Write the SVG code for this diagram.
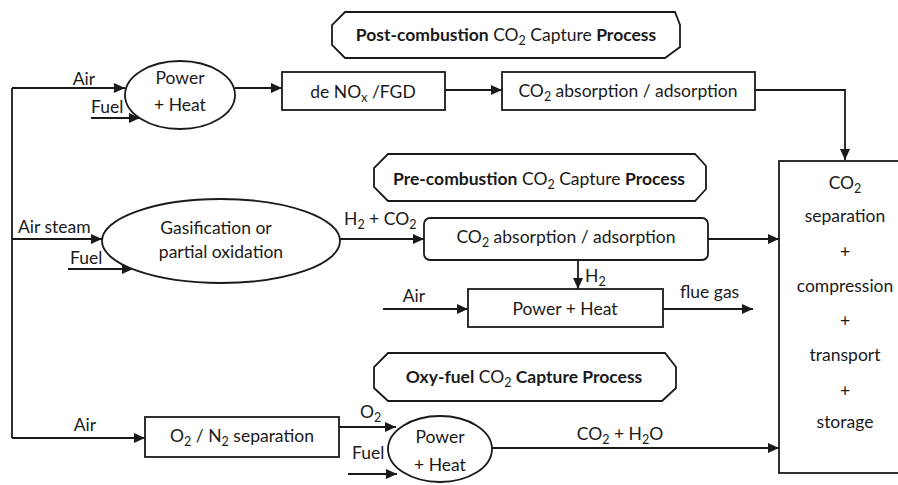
<svg xmlns="http://www.w3.org/2000/svg" width="898" height="485" viewBox="0 0 898 485">
<defs>
<marker id="ah" markerUnits="userSpaceOnUse" markerWidth="12" markerHeight="10" refX="11" refY="5" orient="auto">
<path d="M0,0 L11,5 L0,10 Z" fill="#1a1a1a"/>
</marker>
<style>
.s{fill:#fff;stroke:#1a1a1a;stroke-width:1.8}
.c{fill:none;stroke:#1a1a1a;stroke-width:1.8;marker-end:url(#ah)}
.l{fill:none;stroke:#1a1a1a;stroke-width:1.8}
text{font-family:Lato,"Liberation Sans",sans-serif;font-size:17.5px;fill:#1a1a1a}
.m{text-anchor:middle}
.b{font-weight:bold}
.sub{font-size:12.5px}
</style>
</defs>
<rect width="898" height="485" fill="#fff"/>

<g id="connectors">
<path class="l" d="M12,88 V438"/>
<path class="c" d="M12,88 H125"/>
<path class="c" d="M91,118 H140"/>
<path class="c" d="M235,88 H282"/>
<path class="c" d="M445,90 H502"/>
<path class="c" d="M755,90 H845 V160"/>
<path class="c" d="M12,239 H102"/>
<path class="c" d="M68,269 H133"/>
<path class="c" d="M340,239 H424"/>
<path class="c" d="M708,239 H779"/>
<path class="c" d="M578,260 V289"/>
<path class="c" d="M383,309 H468"/>
<path class="c" d="M663,309 H753"/>
<path class="c" d="M12,438 H145"/>
<path class="c" d="M339,427 H396"/>
<path class="c" d="M348,474 H397"/>
<path class="c" d="M492,448 H779"/>
<text x="84" y="85" class="m">Air</text>
<text x="91" y="113">Fuel</text>
<text x="18" y="233">Air steam</text>
<text x="70" y="264">Fuel</text>
<text x="344" y="225">H<tspan class="sub" dy="4">2</tspan><tspan dy="-4"> + CO</tspan><tspan class="sub" dy="4">2</tspan></text>
<text x="585" y="282">H<tspan class="sub" dy="4">2</tspan></text>
<text x="414" y="302" class="m">Air</text>
<text x="680" y="298">flue gas</text>
<text x="85" y="431" class="m">Air</text>
<text x="360" y="418">O<tspan class="sub" dy="4">2</tspan></text>
<text x="352" y="459">Fuel</text>
<text x="620" y="440" class="m">CO<tspan class="sub" dy="4">2</tspan><tspan dy="-4"> + H</tspan><tspan class="sub" dy="4">2</tspan><tspan dy="-4">O</tspan></text>
</g>

<g id="post-label">
<polygon class="s" points="345,12 675,12 680,25 680,47 665,58 345,58 332,45 332,25"/>
<text x="506" y="41" class="m"><tspan class="b">Post-combustion</tspan> CO<tspan class="sub" dy="4">2</tspan><tspan dy="-4"> Capture </tspan><tspan class="b">Process</tspan></text>
</g>

<g id="power-heat-1">
<ellipse class="s" cx="180" cy="95" rx="55" ry="34"/>
<text x="180" y="84" class="m">Power</text>
<text x="180" y="111" class="m">+ Heat</text>
</g>

<g id="denox">
<rect class="s" x="282" y="72" width="163" height="38"/>
<text x="363" y="98" class="m">de NO<tspan class="sub" dy="4">x</tspan><tspan dy="-4"> /FGD</tspan></text>
</g>

<g id="co2-abs-1">
<rect class="s" x="502" y="72" width="253" height="38"/>
<text x="628" y="97" class="m">CO<tspan class="sub" dy="4">2</tspan><tspan dy="-4"> absorption / adsorption</tspan></text>
</g>

<g id="pre-label">
<polygon class="s" points="388,154 695,154 706,166 706,189 695,201 388,201 374,187 374,168"/>
<text x="539" y="185" class="m"><tspan class="b">Pre-combustion</tspan> CO<tspan class="sub" dy="4">2</tspan><tspan dy="-4"> Capture </tspan><tspan class="b">Process</tspan></text>
</g>

<g id="gasification">
<ellipse class="s" cx="221" cy="241" rx="119" ry="42"/>
<text x="216" y="234" class="m">Gasification or</text>
<text x="221" y="258" class="m">partial oxidation</text>
</g>

<g id="co2-abs-2">
<rect class="s" x="424" y="218" width="284" height="42" rx="6"/>
<text x="566" y="243" class="m">CO<tspan class="sub" dy="4">2</tspan><tspan dy="-4"> absorption / adsorption</tspan></text>
</g>

<g id="power-heat-2">
<rect class="s" x="468" y="289" width="195" height="38"/>
<text x="565" y="315" class="m">Power + Heat</text>
</g>

<g id="oxy-label">
<polygon class="s" points="388,353 665,353 676,367 676,388 662,401 388,401 374,388 374,367"/>
<text x="524" y="383" class="m"><tspan class="b">Oxy-fuel</tspan> CO<tspan class="sub" dy="4">2</tspan><tspan dy="-4" class="b"> Capture Process</tspan></text>
</g>

<g id="o2n2">
<rect class="s" x="145" y="417" width="194" height="40"/>
<text x="242" y="442" class="m">O<tspan class="sub" dy="4">2</tspan><tspan dy="-4"> / N</tspan><tspan class="sub" dy="4">2</tspan><tspan dy="-4"> separation</tspan></text>
</g>

<g id="power-heat-3">
<ellipse class="s" cx="440" cy="449" rx="52" ry="33"/>
<text x="440" y="443" class="m">Power</text>
<text x="440" y="471" class="m">+ Heat</text>
</g>

<g id="storage">
<rect class="s" x="779" y="161" width="140" height="312"/>
<text x="845" y="189" class="m">CO<tspan class="sub" dy="4">2</tspan></text>
<text x="845" y="222" class="m">separation</text>
<text x="845" y="258" class="m">+</text>
<text x="845" y="292" class="m">compression</text>
<text x="845" y="327" class="m">+</text>
<text x="845" y="361" class="m">transport</text>
<text x="845" y="397" class="m">+</text>
<text x="845" y="428" class="m">storage</text>
</g>
</svg>
